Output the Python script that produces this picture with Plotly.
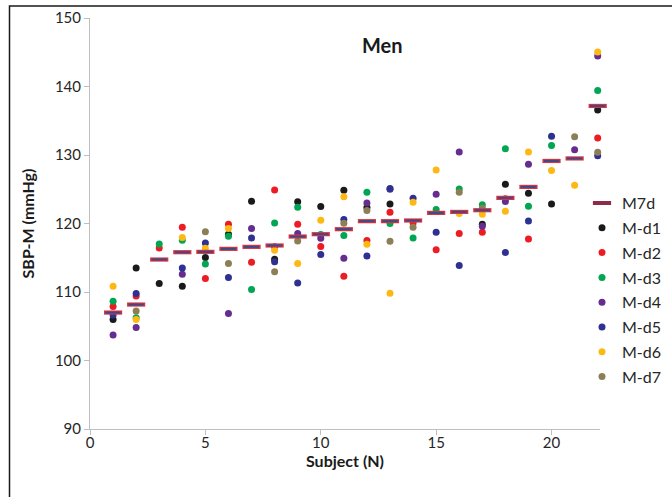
import plotly.graph_objects as go

subjects = list(range(1, 23))

m7d = [107.0, 108.17, 114.74, 115.81, 115.86, 116.3, 116.59, 116.79, 118.1, 118.44, 119.17,
       120.34, 120.34, 120.44, 121.55, 121.69, 121.94, 123.74, 125.34, 129.13, 129.5, 137.16]

d1 = [105.98, 113.52, 111.24, 110.85, 115.03, 118.44, 123.26, 114.79, 123.16, 122.48, 124.86,
      122.34, 122.86, None, None, None, 119.9, 125.74, 124.42, 122.86, None, 136.58]
d2 = [107.88, 109.43, 116.44, 119.46, 111.97, 119.9, 114.35, 124.9, 119.9, 116.64, 112.31,
      117.52, 121.65, 120.09, 116.15, 118.54, 118.73, 123.6, 117.75, None, None, 132.5]
d3 = [108.66, 106.23, 117.02, 117.56, 114.1, 118.15, 110.36, 120.09, 122.38, 118.39, 118.25,
      124.57, 120.0, 117.9, 122.04, 125.05, 122.72, 130.9, 122.52, 131.38, None, 139.4]
d4 = [103.74, 104.82, None, 112.6, None, 106.86, 119.27, 116.6, 118.54, 117.85, 114.93,
      123.01, 125.0, None, 124.28, 130.45, 119.6, 123.2, 128.66, None, 130.75, 144.46]
d5 = [106.66, 109.78, None, 113.52, 117.17, 112.12, 117.9, 114.4, 111.33, 115.47, 120.58,
      115.27, 125.11, 123.69, 118.73, 113.87, None, 115.77, 120.38, 132.74, None, 129.9]
d6 = [110.85, 105.98, None, 117.95, 116.39, 119.27, None, 116.1, 114.16, 120.48, 123.89,
      116.98, 109.82, 123.11, 127.82, 121.46, 121.36, 121.8, 130.45, 127.73, 125.6, 145.04]
d7 = [None, 107.24, None, None, 118.78, 114.16, None, 112.94, 117.46, None, 120.04,
      121.9, 117.42, 119.46, None, 124.57, 122.23, None, None, None, 132.65, 130.4]

series_names = ["M-d1", "M-d2", "M-d3", "M-d4", "M-d5", "M-d6", "M-d7"]
series_vals = [d1, d2, d3, d4, d5, d6, d7]
series_colors = ["#1a1a1a", "#ed1c24", "#00a651", "#662d91", "#2e3192", "#fdb913", "#8c7f55"]

x_ticks = [0, 5, 10, 15, 20]
y_ticks = [90, 100, 110, 120, 130, 140, 150]

FONT = "Lato"
TXT = "#262626"

fig = go.Figure()

# legend entry for M7d (first in legend)
fig.add_trace(go.Scatter(
    x=[None], y=[None], mode="markers", name="M7d", legendgroup="m7d",
    marker=dict(symbol="line-ew", size=13, color="#8e2c48",
                line=dict(width=4, color="#8e2c48")),
))

for i, (name, vals, col) in enumerate(zip(series_names, series_vals, series_colors)):
    fig.add_trace(go.Scatter(
        x=subjects, y=vals, mode="markers", name=name, legendgroup=name,
        marker=dict(color=col, size=7, line=dict(width=0)),
        cliponaxis=False,
    ))

# mean dash: red outline then navy inner
fig.add_trace(go.Scatter(
    x=subjects, y=m7d, mode="markers", showlegend=False, legendgroup="m7d",
    marker=dict(symbol="line-ew", size=13, color="#d9343f",
                line=dict(width=4.2, color="#d9343f")),
    cliponaxis=False,
))
fig.add_trace(go.Scatter(
    x=subjects, y=m7d, mode="markers", showlegend=False, legendgroup="m7d",
    marker=dict(symbol="line-ew", size=11, color="#3e4a88",
                line=dict(width=2, color="#3e4a88")),
    cliponaxis=False,
))

PW = 582.0  # paper width in px (672 - 90 left margin)

fig.update_layout(
    width=672, height=497,
    margin=dict(l=90, r=0, t=18, b=68, autoexpand=False),
    paper_bgcolor="white", plot_bgcolor="white",
    font=dict(family=FONT, size=15, color=TXT),
    showlegend=True,
    legend=dict(
        x=(582 - 90) / PW, y=0.591, xanchor="left", yanchor="top",
        font=dict(family=FONT, size=16, color=TXT),
        bgcolor="rgba(0,0,0,0)", tracegroupgap=1,
        traceorder="grouped", itemwidth=30,
    ),
    annotations=[dict(
        text="Men", xref="paper", yref="paper", x=(382 - 90) / PW, y=0.935,
        xanchor="center", yanchor="middle", showarrow=False,
        font=dict(family=FONT, size=20, color="#1a1a1a", weight="bold"),
    )],
    shapes=[dict(
        type="rect", xref="paper", yref="paper",
        x0=(9.5 - 90) / PW, x1=1.3, y0=-0.4, y1=1.029,
        line=dict(color="#1a1a1a", width=1.5), fillcolor="rgba(0,0,0,0)", layer="below",
    )],
)

fig.update_xaxes(
    domain=[0, 510 / PW],
    range=[0, 22.1], tickvals=x_ticks, ticktext=[str(v) for v in x_ticks],
    showgrid=False, zeroline=False, showline=True, linecolor="#bfbfbf", linewidth=1,
    ticks="outside", ticklen=5, tickcolor="#bfbfbf",
    tickfont=dict(family=FONT, size=15, color=TXT), ticklabelstandoff=-5,
    title=dict(text="Subject (N)", standoff=0,
               font=dict(family=FONT, size=16, color="#1a1a1a", weight="bold")),
)
fig.update_yaxes(
    range=[90, 150], tickvals=y_ticks, ticktext=[str(v) for v in y_ticks],
    showgrid=False, zeroline=False, showline=True, linecolor="#bfbfbf", linewidth=1,
    ticks="outside", ticklen=5, tickcolor="#bfbfbf",
    tickfont=dict(family=FONT, size=15, color=TXT),
    title=dict(text="SBP-M (mmHg)", standoff=16,
               font=dict(family=FONT, size=16, color="#1a1a1a", weight="bold")),
)

fig.write_html("out.html")
